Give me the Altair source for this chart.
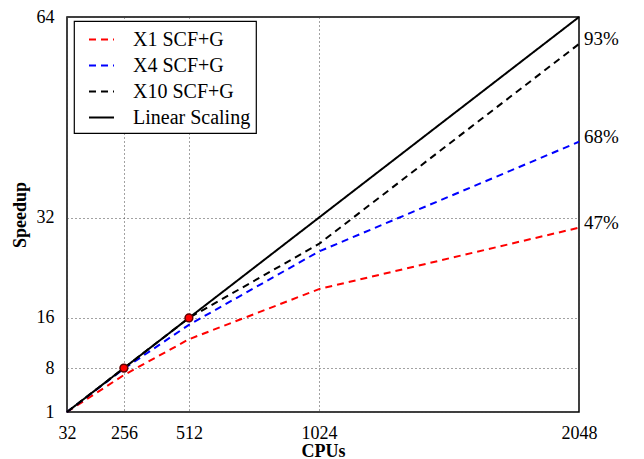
import altair as alt
import pandas as pd

cpus = [32, 256, 512, 1024, 2048]
series_names = ["X1 SCF+G", "X4 SCF+G", "X10 SCF+G", "Linear Scaling"]
x1 = [1, 6.9, 12.6, 20.6, 30.4]
x4 = [1, 7.9, 14.9, 26.6, 44.1]
x10 = [1, 8.0, 16.0, 27.8, 59.7]
linear = [1, 8, 16, 32, 64]
colors = ["#ff0000", "#0000ff", "#000000", "#000000"]
marker_cpus = [256, 512]
marker_speedup = [8, 16]
pct_labels = ["47%", "68%", "93%"]
x_ticks = [32, 256, 512, 1024, 2048]
y_ticks = [1, 8, 16, 32, 64]

FONT = "Liberation Serif"

rows = []
for name, vals in zip(series_names, [x1, x4, x10, linear]):
    for c, v in zip(cpus, vals):
        rows.append({"series": name, "cpus": c, "speedup": v})
df = pd.DataFrame(rows)

marks_df = pd.DataFrame({"cpus": marker_cpus, "speedup": marker_speedup})
lab_df = pd.DataFrame({
    "cpus": [cpus[-1]] * 3,
    "speedup": [x1[-1], x4[-1], x10[-1]],
    "label": pct_labels,
})

xs = alt.Scale(domain=[32, 2048], nice=False, zero=False)
ys = alt.Scale(domain=[1, 64], nice=False, zero=False)

xenc = alt.X("cpus:Q", scale=xs, title="CPUs",
             axis=alt.Axis(values=x_ticks, format="d", grid=True, gridDash=[1, 3],
                           gridColor="#444", ticks=False, domain=False,
                           labelPadding=12, titlePadding=0, labelFlush=False))
yenc = alt.Y("speedup:Q", scale=ys, title="Speedup",
             axis=alt.Axis(values=y_ticks, format="d", grid=True, gridDash=[1, 3],
                           gridColor="#444", ticks=False, domain=False,
                           labelPadding=13, titlePadding=7, labelFlush=False))

lines = alt.Chart(df).mark_line(strokeWidth=2, clip=False).encode(
    x=xenc,
    y=yenc,
    color=alt.Color("series:N", sort=series_names,
                    scale=alt.Scale(domain=series_names, range=colors),
                    legend=alt.Legend(title=None, orient="none", legendX=7, legendY=4,
                                      symbolType="stroke", symbolSize=625,
                                      symbolStrokeWidth=2, symbolOffset=9,
                                      labelFont=FONT, labelFontSize=20,
                                      labelColor="black", labelOffset=18,
                                      rowPadding=2, padding=5,
                                      fillColor="white", strokeColor="black",
                                      cornerRadius=0)),
    strokeDash=alt.StrokeDash("series:N", sort=series_names,
                              scale=alt.Scale(domain=series_names,
                                              range=[[7, 5], [7, 5], [7, 5], [1, 0]]),
                              legend=None),
    detail="series:N",
)

points = alt.Chart(marks_df).mark_point(filled=True, shape="circle", size=60,
                                        fill="#ff0000", stroke="#600000",
                                        strokeWidth=1.5, opacity=1).encode(
    x=alt.X("cpus:Q", scale=xs), y=alt.Y("speedup:Q", scale=ys))

labels = alt.Chart(lab_df).mark_text(align="left", baseline="middle", dx=5, dy=-5,
                                     font=FONT, fontSize=19, color="black").encode(
    x=alt.X("cpus:Q", scale=xs), y=alt.Y("speedup:Q", scale=ys), text="label:N")

chart = alt.layer(lines, points, labels).properties(
    width=512, height=395,
    padding={"left": 3, "top": 0, "right": 5, "bottom": 0}
).configure_view(stroke="black", strokeWidth=1.5).configure_axis(
    labelFont=FONT, labelFontSize=18, labelColor="black",
    titleFont=FONT, titleFontSize=18, titleFontWeight="bold", titleColor="black"
).configure_legend(strokeWidth=1.2)

chart.save("out.html", embed_options={"renderer": "svg", "actions": False})
